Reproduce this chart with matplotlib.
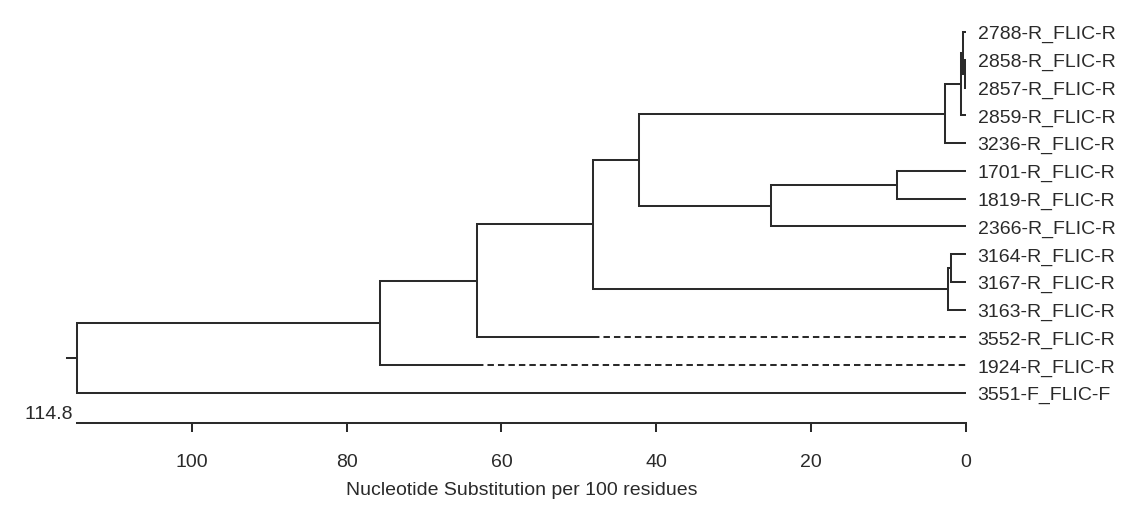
import matplotlib
matplotlib.use("Agg")
import matplotlib.pyplot as plt

# ---------------- data ----------------
leaf_labels = [
    "2788-R_FLIC-R", "2858-R_FLIC-R", "2857-R_FLIC-R", "2859-R_FLIC-R",
    "3236-R_FLIC-R", "1701-R_FLIC-R", "1819-R_FLIC-R", "2366-R_FLIC-R",
    "3164-R_FLIC-R", "3167-R_FLIC-R", "3163-R_FLIC-R", "3552-R_FLIC-R",
    "1924-R_FLIC-R", "3551-F_FLIC-F",
]
# merges: (left child, right child, height); new nodes numbered from len(leaf_labels)
merge_left = [1, 0, 15, 16, 5, 18, 17, 8, 21, 20, 23, 24, 25]
merge_right = [2, 14, 3, 4, 6, 7, 19, 9, 10, 22, 11, 12, 13]
merge_height = [0.1, 0.3, 0.55, 2.7, 8.9, 25.2, 42.2, 1.95, 2.25, 48.2, 63.2, 75.7, 114.8]
# leaves whose branch is drawn dashed from this distance down to 0
dashed_leaf = ["3552-R_FLIC-R", "1924-R_FLIC-R"]
dashed_from = [48.2, 63.2]

tick_values = [100, 80, 60, 40, 20, 0]
tree_depth = 114.8
x_label = "Nucleotide Substitution per 100 residues"

# ---------------- style ----------------
line_color = "#2b2b2b"
text_color = "#2a2a2a"
lw = 1.45
fs = 14
plt.rcParams["font.family"] = ["Liberation Sans", "DejaVu Sans"]

W, H, DPI = 1144, 512, 100
fig = plt.figure(figsize=(W / DPI, H / DPI), dpi=DPI)
fig.patch.set_facecolor("white")

# px mapping: x_px = 965.7 - 7.7375*d ; y_px = 32 + 27.77*i
x0_px, x_scale = 965.7, 7.7375
y0_px, y_scale = 32.0, 27.77
xlim = (x0_px / x_scale, (x0_px - W) / x_scale)
ylim = ((H - y0_px) / y_scale, -y0_px / y_scale)

ax = fig.add_axes([0, 0, 1, 1])
ax.set_xlim(*xlim)
ax.set_ylim(*ylim)
ax.axis("off")

n = len(leaf_labels)
ypos = {i: float(i) for i in range(n)}
hgt = {i: 0.0 for i in range(n)}
dash_map = dict(zip(dashed_leaf, dashed_from))

for k, (a, b, h) in enumerate(zip(merge_left, merge_right, merge_height)):
    node = n + k
    ypos[node] = (ypos[a] + ypos[b]) / 2
    hgt[node] = h
    ends = []
    for c in (a, b):
        if c < n and leaf_labels[c] in dash_map:
            start = dash_map[leaf_labels[c]]
            ax.plot([start, 0], [ypos[c], ypos[c]], color=line_color, lw=lw,
                    linestyle=(0, (3.2, 2.0)), solid_capstyle="butt")
            ends.append(start)
        else:
            ends.append(hgt[c])
    ax.plot([ends[0], h, h, ends[1]], [ypos[a], ypos[a], ypos[b], ypos[b]],
            color=line_color, lw=lw, solid_joinstyle="miter", solid_capstyle="butt")

root = n + len(merge_height) - 1
ax.plot([hgt[root], hgt[root] + 1.4], [ypos[root], ypos[root]], color=line_color, lw=lw)

for i, lab in enumerate(leaf_labels):
    ax.annotate(lab, xy=(0, i), xytext=(8.5, -2.0), textcoords="offset points",
                ha="left", va="center", fontsize=fs, color=text_color)

# scale bar axis
bar_y = 1 - 422.7 / H
ax2 = fig.add_axes([0, bar_y, 1, 0.02])
ax2.set_xlim(*xlim)
ax2.patch.set_alpha(0)
for s in ("top", "left", "right"):
    ax2.spines[s].set_visible(False)
ax2.spines["bottom"].set_bounds(0, tree_depth)
ax2.spines["bottom"].set_linewidth(lw)
ax2.spines["bottom"].set_color(line_color)
ax2.set_yticks([])
ax2.set_xticks(tick_values)
ax2.set_xticklabels([str(v) for v in tick_values])
ax2.tick_params(axis="x", direction="out", length=6.5, width=lw, color=line_color,
                pad=16, labelsize=fs, labelcolor=text_color)
ax2.set_xlabel(x_label, fontsize=fs, color=text_color, va="center")
ax2.xaxis.set_label_coords(522 / W, 1 - 490.7 / H, transform=fig.transFigure)
ax2.text(tree_depth, 0, "114.8 ", transform=ax2.get_xaxis_transform(),
         ha="right", va="bottom", fontsize=fs, color=text_color)

fig.savefig("out.png", dpi=DPI, facecolor="white")
